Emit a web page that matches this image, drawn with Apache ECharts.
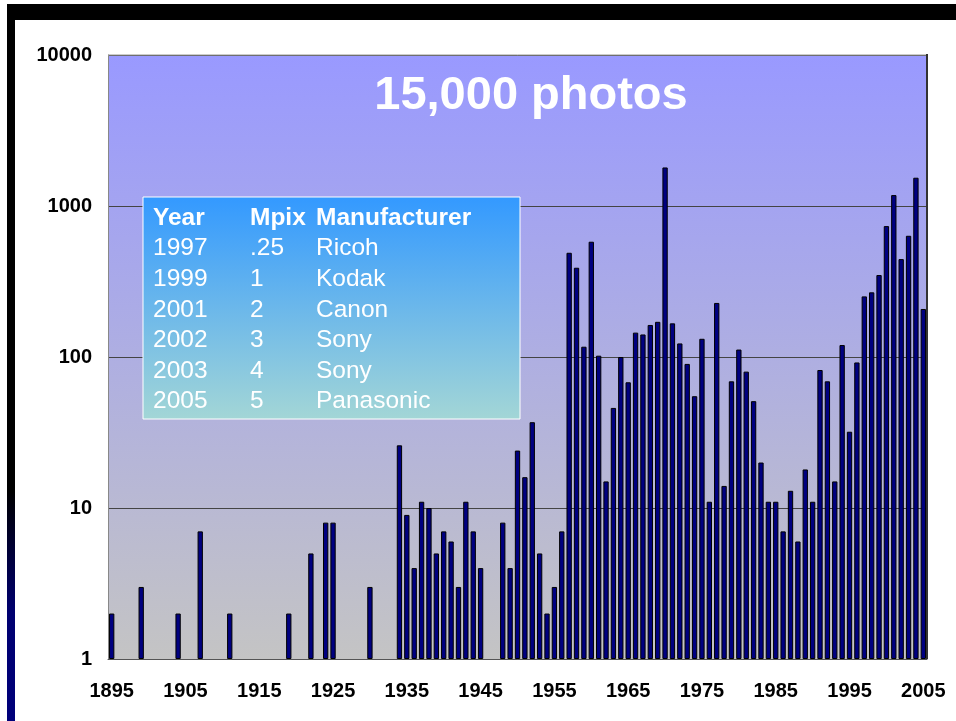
<!DOCTYPE html>
<html>
<head>
<meta charset="utf-8">
<script src="https://cdn.jsdelivr.net/npm/echarts@6/dist/echarts.min.js"></script>
<style>
  html, body { margin: 0; padding: 0; background: #fff; }
  #chart { width: 956px; height: 721px; }
</style>
</head>
<body>
<div id="chart"></div>
<script>
// years that have photos, and the photo count for each
const photoYears = [
  1895, 1899, 1904, 1907, 1911, 1919, 1922, 1924, 1925, 1930,
  1934, 1935, 1936, 1937, 1938, 1939, 1940, 1941, 1942, 1943, 1944, 1945,
  1948, 1949, 1950, 1951, 1952, 1953, 1954, 1955, 1956, 1957, 1958, 1959,
  1960, 1961, 1962, 1963, 1964, 1965, 1966, 1967, 1968, 1969,
  1970, 1971, 1972, 1973, 1974, 1975, 1976, 1977, 1978, 1979,
  1980, 1981, 1982, 1983, 1984, 1985, 1986, 1987, 1988, 1989,
  1990, 1991, 1992, 1993, 1994, 1995, 1996, 1997, 1998, 1999,
  2000, 2001, 2002, 2003, 2004, 2005
];
const photoCounts = [
  2, 3, 2, 7, 2, 2, 5, 8, 8, 3,
  26, 9, 4, 11, 10, 5, 7, 6, 3, 11, 7, 4,
  8, 4, 24, 16, 37, 5, 2, 3, 7, 490, 390, 117,
  580, 102, 15, 46, 100, 68, 145, 141, 163, 171,
  1800, 167, 123, 90, 55, 132, 11, 228, 14, 69,
  112, 80, 51, 20, 11, 11, 7, 13, 6, 18,
  11, 82, 69, 15, 120, 32, 92, 252, 268, 349,
  736, 1181, 445, 635, 1539, 208
];

const firstYear = 1895;
const lastYear = 2005;

// camera table
const tableHeader = ["Year", "Mpix", "Manufacturer"];
const tableYears = ["1997", "1999", "2001", "2002", "2003", "2005"];
const tableMpix = [".25", "1", "2", "3", "4", "5"];
const tableMakers = ["Ricoh", "Kodak", "Canon", "Sony", "Sony", "Panasonic"];

const titleText = "15,000 photos";

const categories = [];
for (let y = firstYear; y <= lastYear; y++) categories.push(String(y));
const seriesData = categories.map(c => {
  const i = photoYears.indexOf(Number(c));
  return i >= 0 ? photoCounts[i] : "-";
});

const font = "'Liberation Sans', Arial, sans-serif";
const tableLeft = 143, tableTop = 197;
const colX = [153, 250, 316];
const rowH = 30.6;

const tableGraphics = [
  {
    type: "rect",
    shape: { x: tableLeft, y: tableTop, width: 377, height: 222 },
    style: {
      fill: {
        type: "linear", x: 0, y: 0, x2: 0, y2: 1,
        colorStops: [
          { offset: 0, color: "#3399ff" },
          { offset: 1, color: "#a3d6d6" }
        ]
      },
      stroke: "#ffffff",
      lineWidth: 1
    },
    z: 100
  }
];
tableHeader.forEach((h, j) => {
  tableGraphics.push({
    type: "text", x: colX[j], y: tableTop + 21, z: 101,
    style: { text: h, fill: "#fff", font: "bold 24.5px " + font, textVerticalAlign: "middle" }
  });
});
tableYears.forEach((yr, i) => {
  const cy = tableTop + 21 + rowH * (i + 1);
  [yr, tableMpix[i], tableMakers[i]].forEach((t, j) => {
    tableGraphics.push({
      type: "text", x: colX[j], y: cy, z: 101,
      style: { text: t, fill: "#fff", font: "24.5px " + font, textVerticalAlign: "middle" }
    });
  });
});

const option = {
  animation: false,
  textStyle: { fontFamily: font },
  grid: {
    left: 108,
    right: 29,
    top: 55,
    bottom: 62,
    show: true,
    borderWidth: 0,
    backgroundColor: {
      type: "linear", x: 0, y: 0, x2: 0, y2: 1,
      colorStops: [
        { offset: 0, color: "#9999ff" },
        { offset: 1, color: "#c4c4c4" }
      ]
    }
  },
  xAxis: {
    type: "category",
    data: categories,
    boundaryGap: true,
    axisLine: { lineStyle: { color: "#555", width: 1 } },
    axisTick: { interval: 4, alignWithLabel: false, length: 6, lineStyle: { color: "#555" } },
    axisLabel: {
      interval: 9,
      color: "#000",
      fontWeight: "bold",
      fontSize: 20,
      margin: 22
    },
    splitLine: { show: false }
  },
  yAxis: {
    type: "log",
    logBase: 10,
    min: 1,
    max: 10000,
    axisLine: { show: true, lineStyle: { color: "#888" } },
    axisTick: { show: false },
    axisLabel: {
      color: "#000",
      fontWeight: "bold",
      fontSize: 20,
      margin: 16,
      formatter: v => String(Math.round(v))
    },
    splitLine: { show: true, lineStyle: { color: "#444", width: 1 } }
  },
  series: [
    {
      type: "bar",
      data: seriesData,
      barWidth: "72%",
      itemStyle: { color: "#000080", borderColor: "#000", borderWidth: 1 }
    }
  ],
  graphic: [
    // frame bands
    { type: "rect", shape: { x: 7, y: 4, width: 949, height: 16 }, style: { fill: "#000" }, z: 50 },
    {
      type: "rect", shape: { x: 7, y: 4, width: 8, height: 717 }, z: 50,
      style: {
        fill: {
          type: "linear", x: 0, y: 0, x2: 0, y2: 1,
          colorStops: [
            { offset: 0, color: "#000" },
            { offset: 0.68, color: "#000" },
            { offset: 0.85, color: "#000070" },
            { offset: 1, color: "#00007a" }
          ]
        }
      }
    },
    // plot frame edges
    { type: "line", shape: { x1: 108, y1: 55, x2: 927, y2: 55 }, style: { stroke: "#999", lineWidth: 1 }, z: 20 },
    { type: "line", shape: { x1: 927, y1: 54, x2: 927, y2: 659 }, style: { stroke: "#333", lineWidth: 2 }, z: 20 },
    {
      type: "text", x: 531, y: 96, z: 100,
      style: {
        text: titleText, fill: "#fff", font: "bold 47px " + font,
        textAlign: "center", textVerticalAlign: "middle"
      }
    }
  ].concat(tableGraphics)
};

const chart = echarts.init(document.getElementById("chart"));
chart.setOption(option);
</script>
</body>
</html>
